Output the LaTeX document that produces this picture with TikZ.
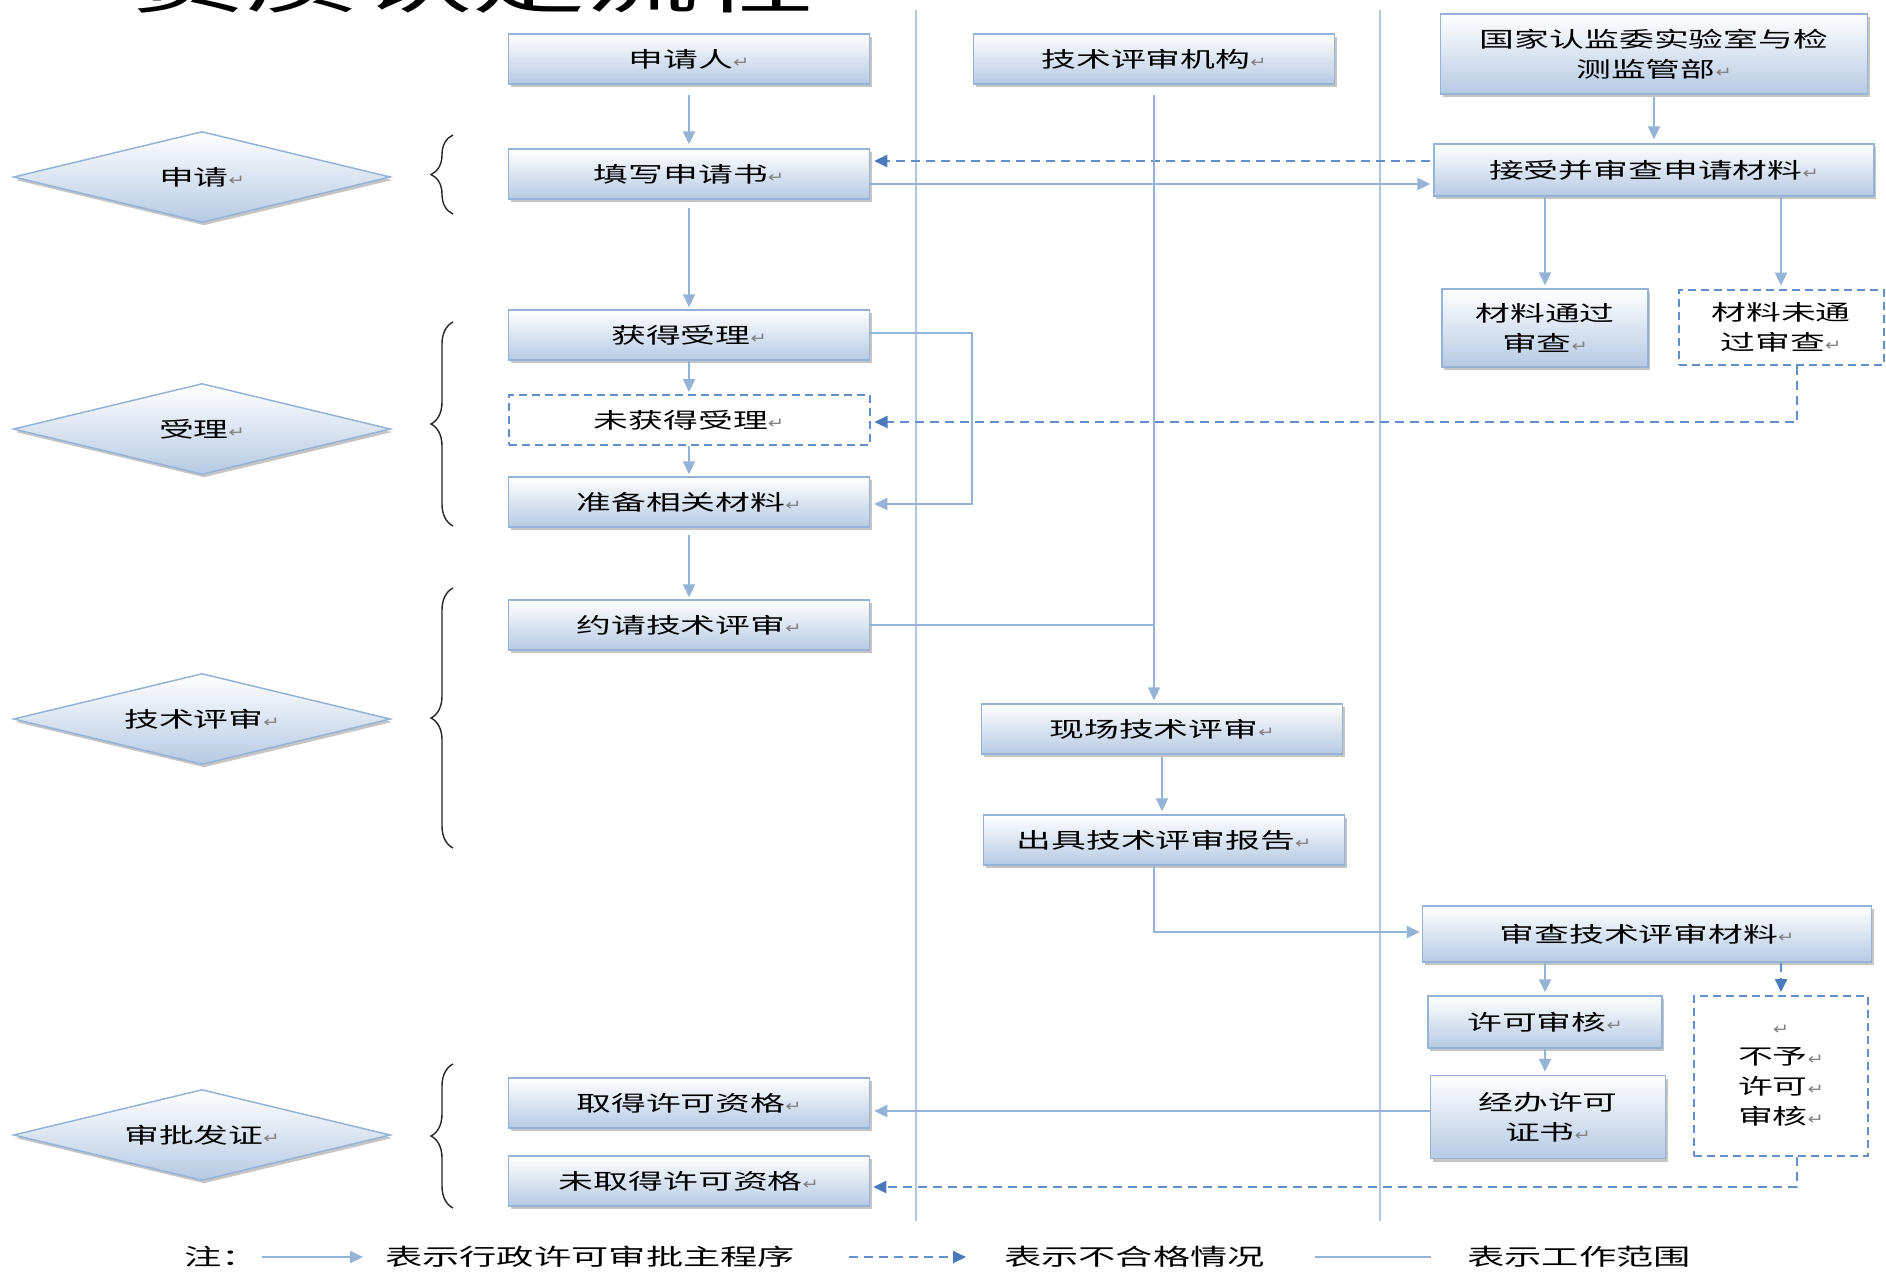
\documentclass[tikz,border=0pt]{standalone}
\usepackage{fontspec}
\setmainfont{Noto Sans CJK SC}[FakeStretch=1.62]
\newfontfamily\dvfont{DejaVu Sans}[FakeStretch=1.3]
\usetikzlibrary{shapes.geometric,arrows.meta,shadows,decorations.pathreplacing,calc}
\definecolor{bx}{RGB}{149,179,215}
\definecolor{bxfill}{RGB}{182,202,228}
\definecolor{dsh}{RGB}{98,143,202}
\definecolor{dshtip}{RGB}{74,122,187}
\definecolor{lane}{RGB}{178,199,227}
\newcommand\retmark{{\dvfont\fontsize{15}{15}\selectfont\textcolor{black!50}{↵}}}
\begin{document}
\begin{tikzpicture}[x=1pt,y=-1pt,
  txt/.style={font=\fontsize{21.5}{30}\selectfont, align=center, text=black},
  shad/.style={drop shadow={shadow xshift=2pt, shadow yshift=-3pt, fill=black!50, opacity=0.45}},
  box/.style={txt, shad, draw=bx, line width=1.5pt, top color=white, bottom color=bxfill, inner sep=0pt, minimum width=361pt, minimum height=50pt},
  dbox/.style={txt, draw=dsh, line width=2pt, dash pattern=on 8pt off 5pt, fill=white, inner sep=0pt, minimum width=361pt, minimum height=50pt},
  phase/.style={txt, shad, diamond, aspect=4, draw=bx, line width=1.5pt, top color=white, bottom color=bxfill, inner sep=0pt, minimum width=377pt, minimum height=91pt},
  arr/.style={draw=bx, line width=2.2pt, -{Triangle[length=13pt,width=12pt]}},
  darr/.style={draw=dsh, line width=2.3pt, dash pattern=on 9pt off 6pt, -{Triangle[length=13pt,width=12pt,color=dshtip,fill=dshtip]}},
  plain/.style={draw=bx, line width=2.2pt},
  laneline/.style={draw=lane, line width=2.5pt},
  bracepath/.style={draw=black!85, line width=1.4pt, decorate, decoration={brace, amplitude=22pt}},
  legendtxt/.style={font=\fontsize{23}{23}\selectfont, anchor=west, inner sep=0pt}
]
\useasboundingbox (0,0) rectangle (1886,1272);
\fill[white] (0,0) rectangle (1886,1272);

% title (cut off at the top edge)
\node[anchor=base west, inner sep=0pt, font=\fontsize{70}{70}\selectfont] (title) at (132,7) {资质认定流程};

% lane lines
\coordinate (l1t) at (916,10); \coordinate (l1b) at (916,1221);
\coordinate (l2t) at (1380,10); \coordinate (l2b) at (1380,1221);
\draw[laneline] (l1t) -- (l1b);
\draw[laneline] (l2t) -- (l2b);

% phases
\node[phase] (p1) at (202,177) {申请\retmark};
\node[phase] (p2) at (202,429) {受理\retmark};
\node[phase] (p3) at (202,719) {技术评审\retmark};
\node[phase] (p4) at (202,1135) {审批发证\retmark};

% braces
\draw[bracepath] (453,214) -- (453,135);
\draw[bracepath] (453,526) -- (453,322);
\draw[bracepath] (453,848) -- (453,588);
\draw[bracepath] (453,1208) -- (453,1064);

% boxes
\node[box] (sqr) at (689,59) {申请人\retmark};
\node[box] (jg) at (1154,59) {技术评审机构\retmark};
\node[box, minimum width=427pt, minimum height=80pt] (gj) at (1654,54) {国家认监委实验室与检\\测监管部\retmark};
\node[box] (txsq) at (689,174) {填写申请书\retmark};
\node[box, minimum width=440pt, minimum height=52pt] (jsh) at (1654,170) {接受并审查申请材料\retmark};
\node[box, minimum width=206pt, minimum height=78pt] (ltg) at (1545,328) {材料通过\\审查\retmark};
\node[dbox, minimum width=205pt, minimum height=75pt] (lwtg) at (1781,327) {材料未通\\过审查\retmark};
\node[box] (hdsl) at (689,335) {获得受理\retmark};
\node[dbox] (whsl) at (689,420) {未获得受理\retmark};
\node[box] (zbcl) at (689,502) {准备相关材料\retmark};
\node[box] (yq) at (689,625) {约请技术评审\retmark};
\node[box] (xc) at (1162,729) {现场技术评审\retmark};
\node[box] (cj) at (1164,840) {出具技术评审报告\retmark};
\node[box, minimum width=449pt, minimum height=56pt] (scjs) at (1647,934) {审查技术评审材料\retmark};
\node[box, minimum width=234pt, minimum height=52pt] (xksh) at (1545,1022) {许可审核\retmark};
\node[box, minimum width=235pt, minimum height=83pt] (jb) at (1548,1117) {经办许可\\证书\retmark};
\node[dbox, minimum width=174pt, minimum height=160pt] (by) at (1781,1076) {\retmark\\不予\retmark\\许可\retmark\\审核\retmark};
\node[box] (qd) at (689,1103) {取得许可资格\retmark};
\node[box] (wqd) at (689,1181) {未取得许可资格\retmark};

% connectors
\draw[arr, shorten <=10pt, shorten >=4pt] (sqr.south) -- (txsq.north);
\coordinate (d1s) at ([yshift=9pt]jsh.west);
\draw[darr, shorten <=3pt, shorten >=4pt] (d1s) -- (d1s -| txsq.east);
\coordinate (s1s) at ([yshift=-10pt]txsq.east);
\draw[arr, shorten >=3pt] (s1s) -- (s1s -| jsh.west);
\draw[arr, shorten <=2pt, shorten >=4pt] (gj.south) -- (gj.south |- jsh.north);
\draw[arr, shorten >=3pt] (ltg.north |- jsh.south) -- (ltg.north);
\draw[arr, shorten >=3pt] (lwtg.north |- jsh.south) -- (lwtg.north);
\draw[arr, shorten <=8pt, shorten >=2pt] (txsq.south) -- (hdsl.north);
\draw[arr, shorten >=2pt] (hdsl.south) -- (whsl.north);
\draw[arr, shorten >=2pt] (whsl.south) -- (zbcl.north);
\coordinate (r1a) at ([yshift=2pt]hdsl.east);
\coordinate (r1b) at ($(r1a)+(102,0)$);
\coordinate (r1c) at ([yshift=-2pt]zbcl.east);
\draw[arr, shorten >=4pt] (r1a) -- (r1b) |- (r1c);
\coordinate (d2a) at ([xshift=16pt]lwtg.south);
\coordinate (d2b) at ([yshift=-2pt]whsl.east);
\draw[darr, shorten >=4pt] (d2a) |- (d2b);
\draw[arr, shorten <=7pt, shorten >=2pt] (zbcl.south) -- (yq.north);
\coordinate (jgx) at (jg.south |- yq.east);
\draw[plain] (yq.east) -- (jgx);
\draw[arr, shorten <=10pt, shorten >=3pt] (jg.south) -- (jg.south |- xc.north);
\draw[arr, shorten <=2pt, shorten >=3pt] (xc.south) -- (xc.south |- cj.north);
\coordinate (cjb) at (jg.south |- cj.south);
\coordinate (scw) at ([yshift=2pt]scjs.west);
\draw[arr, shorten >=2pt] (cjb) |- (scw);
\draw[arr, shorten >=3pt] (xksh.north |- scjs.south) -- (xksh.north);
\draw[darr, shorten >=3pt] (by.north |- scjs.south) -- (by.north);
\draw[arr, shorten >=3pt] (xksh.south) -- (xksh.south |- jb.north);
\coordinate (j1) at ([yshift=6pt]jb.west);
\draw[arr, shorten >=4pt] (j1) -- (j1 -| qd.east);
\coordinate (d3a) at ([xshift=16pt]by.south);
\coordinate (d3b) at ([yshift=-6pt]wqd.east);
\draw[darr, shorten >=3pt] (d3a) |- (d3b);

% legend
\node[legendtxt] (note) at (184,1257) {注：};
\coordinate (la1) at (262,1257); \coordinate (la2) at (363,1257);
\draw[arr, line width=1.8pt] (la1) -- (la2);
\node[legendtxt] (lt1) at (385,1257) {表示行政许可审批主程序};
\coordinate (lb1) at (849,1257); \coordinate (lb2) at (966,1257);
\draw[darr, line width=1.8pt] (lb1) -- (lb2);
\node[legendtxt] (lt2) at (1004,1257) {表示不合格情况};
\coordinate (lc1) at (1315,1257); \coordinate (lc2) at (1431,1257);
\draw[plain, line width=1.8pt] (lc1) -- (lc2);
\node[legendtxt] (lt3) at (1467,1257) {表示工作范围};
\end{tikzpicture}
\end{document}
